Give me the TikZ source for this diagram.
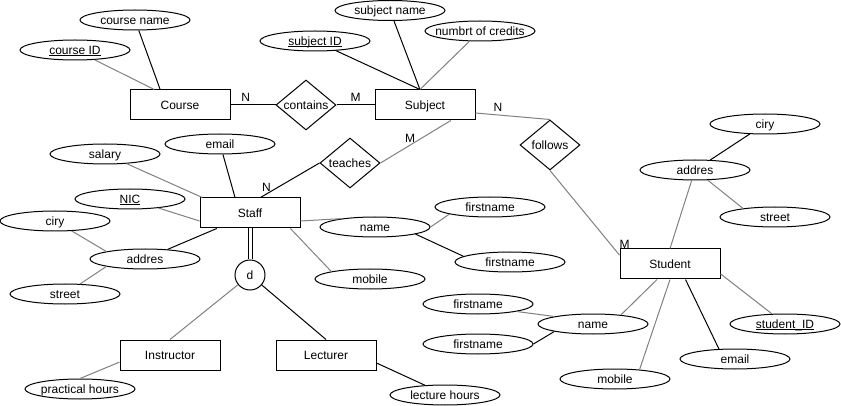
\documentclass[tikz,border=0pt]{standalone}
\usepackage{fontspec}
\setmainfont{Liberation Sans}
\usetikzlibrary{shapes.geometric}
\definecolor{softline}{RGB}{128,128,128}
\newcommand{\pkey}[1]{\underline{\smash{#1}}}

\begin{document}
\begin{tikzpicture}[x=1pt, y=-1pt, line width=1pt, font=\fontsize{12}{14}\selectfont,
    txt/.style={text height=10.9pt, text depth=2.5pt},
    entity/.style={draw, txt, minimum width=100pt, minimum height=30pt, inner sep=0pt},
    attr/.style={ellipse, draw, minimum width=110pt, minimum height=20pt, inner sep=0pt, label={[txt, inner sep=0pt]center:#1}},
    rel/.style={diamond, draw, aspect=1.2, inner sep=0pt, minimum width=60pt, minimum height=50pt},
    disj/.style={circle, draw, txt, minimum size=30pt, inner sep=0pt},
    card/.style={inner sep=2.5pt},
    soft/.style={draw=softline}]
    \useasboundingbox (0,0) rectangle (841,406);

    % entities
    \node[entity] (course) at (180,105) {Course};
    \node[entity] (subject) at (425,105) {Subject};
    \node[entity] (staff) at (250,213) {Staff};
    \node[entity] (student) at (670,264) {Student};
    \node[entity] (instructor) at (170,355) {Instructor};
    \node[entity] (lecturer) at (326,355) {Lecturer};

    % relationships
    \node[rel] (contains) at (306,105) {contains};
    \node[rel] (teaches) at (350,163) {teaches};
    \node[rel] (follows) at (550,145) {follows};
    \node[disj] (disjoint) at (250,275) {d};

    % course and subject attributes
    \node[attr=course name] (cname) at (135,20) {};
    \node[attr={\pkey{course ID}}] (cid) at (75,50) {};
    \node[attr=subject name] (subname) at (390,10.5) {};
    \node[attr={\pkey{subject ID}}] (subid) at (315,41) {};
    \node[attr=numbrt of credits] (credits) at (480,31) {};

    % staff attributes
    \node[attr=salary] (salary) at (105,154) {};
    \node[attr=email] (stemail) at (220,144) {};
    \node[attr={\pkey{NIC}}] (nic) at (130,199) {};
    \node[attr=ciry] (stciry) at (55,221) {};
    \node[attr=addres] (staddr) at (145,259) {};
    \node[attr=street] (ststreet) at (65,294) {};
    \node[attr=name] (stname) at (375,227) {};
    \node[attr=firstname] (stfirst) at (490,207) {};
    \node[attr=firstname] (stlast) at (510,262) {};
    \node[attr=mobile] (stmobile) at (370,279) {};
    \node[attr=practical hours] (practical) at (80,389) {};
    \node[attr=lecture hours] (lecture) at (445,395) {};

    % student attributes
    \node[attr=ciry] (sdciry) at (765,124) {};
    \node[attr=addres] (sdaddr) at (695,170) {};
    \node[attr=street] (sdstreet) at (775,217) {};
    \node[attr=name] (sdname) at (593,324) {};
    \node[attr=firstname] (sdfirst) at (478,304) {};
    \node[attr=firstname] (sdlast) at (478,344) {};
    \node[attr=mobile] (sdmobile) at (615,379) {};
    \node[attr=email] (sdemail) at (735,359) {};
    \node[attr={\pkey{student\_ID}}] (sdid) at (785,324) {};

    % relationship lines
    \draw (course) -- node[card, above, pos=0.34] {N} (contains);
    \draw (contains) -- node[card, above, pos=0.5] {M} (subject);
    \draw (staff.56) -- node[card, above, pos=0.1] {N} (teaches.west);
    \draw[soft] (teaches.east) -- node[card, above, pos=0.42] {M} (subject.-31);
    \draw[soft] (subject.-9) -- node[card, above, pos=0.3] {N} (follows.north);
    \draw[soft] (follows.south) -- node[card, above right, pos=0.96] {M} (student.170);
    \draw[double, double distance=3pt] (staff) -- (disjoint);
    \draw[soft] (disjoint) -- (instructor.north);
    \draw (disjoint) -- (lecturer.north);

    % attribute lines
    \draw (cname) -- (course.142);
    \draw[soft] (cid) -- (course.149);
    \draw (subid) -- (subject.108);
    \draw (subname) -- (subject.108);
    \draw[soft] (credits) -- (subject.108);

    \draw (stemail) -- (staff.134);
    \draw[soft] (salary) -- (staff.162);
    \draw[soft] (nic) -- (staff.189);
    \draw (staff.205) -- (staddr);
    \draw[soft] (stciry) -- (staddr.169);
    \draw[soft] (staddr.191) -- (ststreet);
    \draw[soft] (staff.-9) -- (stname.166);
    \draw[soft] (stname.east) -- (stfirst.190);
    \draw (stname.-10) -- (stlast.173);
    \draw[soft] (staff.-21) -- (stmobile.169);
    \draw[soft] (instructor.188) -- (practical.north);
    \draw (lecturer.-9) -- (lecture.154);

    \draw (sdciry) -- (sdaddr);
    \draw[soft] (sdaddr) -- (sdstreet.165);
    \draw[soft] (sdaddr) -- (student.north);
    \draw[soft] (student.230) -- (sdname.18);
    \draw[soft] (sdfirst.-11) -- (sdname.169);
    \draw (sdlast.east) -- (sdname.191);
    \draw[soft] (student.south) -- (sdmobile.21);
    \draw (student.-45) -- (sdemail.148);
    \draw[soft] (student.-11) -- (sdid);
\end{tikzpicture}
\end{document}
